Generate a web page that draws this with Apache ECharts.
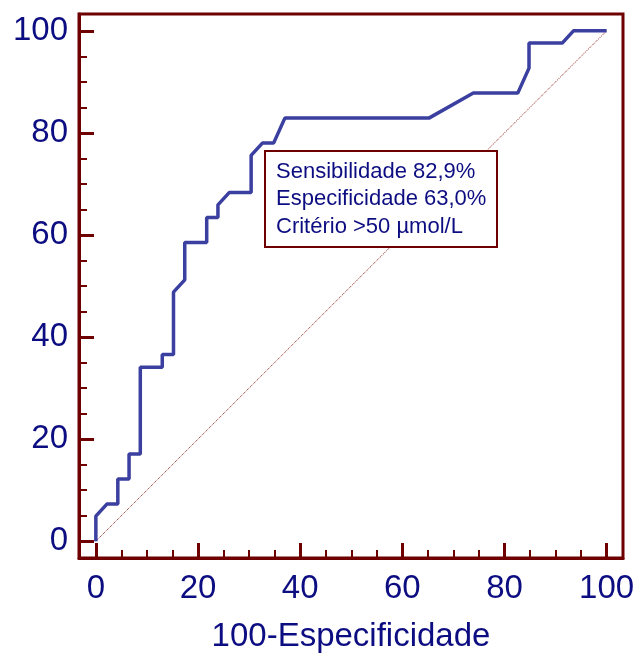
<!DOCTYPE html>
<html>
<head>
<meta charset="utf-8">
<script src="https://cdn.jsdelivr.net/npm/echarts@6/dist/echarts.min.js"></script>
<style>
    html, body {margin: 0; padding: 0; background: #fff;}
    #container {width: 641px; height: 658px;}
</style>
</head>
<body>
<div id="container"></div>
<script>
// ROC curve: 100-Especificidade (x) vs Sensibilidade (y)
var rocX = [0, 0, 2.2, 4.3, 4.3, 6.5, 6.5, 8.7, 8.7, 13.0, 13.0, 15.2, 15.2, 17.4, 17.4, 21.7, 21.7,
    23.9, 23.9, 26.1, 30.4, 30.4, 32.6, 34.8, 37.0, 65.2, 73.9, 82.6, 84.8, 84.8, 91.3, 93.5, 100];
var rocY = [0, 4.9, 7.3, 7.3, 12.2, 12.2, 17.1, 17.1, 34.1, 34.1, 36.6, 36.6, 48.8, 51.2, 58.5, 58.5, 63.4,
    63.4, 65.9, 68.3, 68.3, 75.6, 78.0, 78.0, 82.9, 82.9, 87.8, 87.8, 92.7, 97.6, 97.6, 100, 100];
// reference diagonal
var diagX = [0, 100];
var diagY = [0, 100];
var majorTicks = [0, 20, 40, 60, 80, 100];
var minorTicks = [5, 10, 15, 25, 30, 35, 45, 50, 55, 65, 70, 75, 85, 90, 95];
var boxLines = ["Sensibilidade 82,9%", "Especificidade 63,0%", "Critério >50 µmol/L"];
var xName = "100-Especificidade";

var frameColor = "#6e0000";
var textColor = "#0d0d82";
var fontName = "'Liberation Sans', Arial, sans-serif";

function zip(a, b) {
    let out = [];
    for (let i = 0; i < a.length; i++) {
        out.push([a[i], b[i]]);
    }
    return out;
}

function majorAxis(isX) {
    return {
        type: 'value',
        gridIndex: 0,
        position: isX ? 'bottom' : 'left',
        min: -3.3,
        max: isX ? 103.2 : 103.3,
        name: isX ? xName : '',
        nameLocation: 'middle',
        nameGap: 62,
        nameTextStyle: {color: textColor, fontSize: 33, fontFamily: fontName},
        axisLine: {show: true, onZero: false, lineStyle: {color: frameColor, width: 3}},
        axisTick: {show: true, inside: true, length: 15, customValues: majorTicks,
            lineStyle: {color: frameColor, width: 3}},
        axisLabel: {show: true, customValues: majorTicks, margin: isX ? 14 : 11,
            color: textColor, fontSize: 33, fontFamily: fontName},
        splitLine: {show: false}
    };
}

function minorAxis(isX) {
    return {
        type: 'value',
        gridIndex: 0,
        position: isX ? 'bottom' : 'left',
        min: -3.3,
        max: isX ? 103.2 : 103.3,
        axisLine: {show: false, onZero: false},
        axisTick: {show: true, inside: true, length: 8, customValues: minorTicks,
            lineStyle: {color: frameColor, width: 2}},
        axisLabel: {show: false},
        splitLine: {show: false}
    };
}

var dom = document.getElementById("container");
var myChart = echarts.init(dom);
var option = {
    animation: false,
    backgroundColor: '#fff',
    title: {
        text: boxLines.join("\n"),
        left: 265,
        top: 151,
        padding: [7, 11, 7, 11],
        backgroundColor: '#fff',
        borderColor: frameColor,
        borderWidth: 2,
        textStyle: {color: textColor, fontSize: 22, fontWeight: 'normal',
            fontFamily: fontName, lineHeight: 27.5}
    },
    grid: {
        left: 79, right: 18, top: 14, bottom: 100,
        show: true,
        borderColor: frameColor,
        borderWidth: 3,
        outerBoundsMode: 'none'
    },
    xAxis: [majorAxis(true), minorAxis(true)],
    yAxis: [majorAxis(false), minorAxis(false)],
    series: [
        {
            type: 'line',
            data: zip(diagX, diagY),
            symbol: 'none',
            lineStyle: {color: '#8b1a1a', width: 1, type: [1, 1]},
            z: 2
        },
        {
            type: 'line',
            data: zip(rocX, rocY),
            symbol: 'none',
            clip: false,
            lineStyle: {color: '#3a3fa0', width: 3.5},
            z: 3
        }
    ]
};
myChart.setOption(option);
</script>
</body>
</html>
